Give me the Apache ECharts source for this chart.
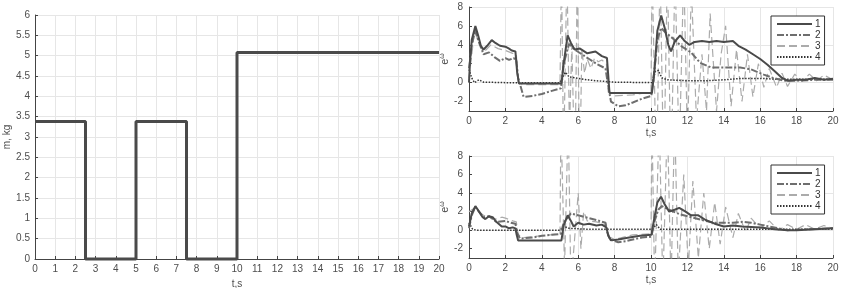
<!DOCTYPE html>
<html><head><meta charset="utf-8">
<script src="https://cdn.jsdelivr.net/npm/echarts@6/dist/echarts.min.js"></script>
<style>html,body{margin:0;padding:0;background:#fff}#c{width:841px;height:288px}</style>
</head><body><div id="c"></div>
<script>
// ---- data ----
const massT = [0, 2.5, 5, 7.5, 10, 20];
const massV = [3.38, 0, 3.38, 0, 5.08, 5.08];
const legendNames = ['1', '2', '3', '4'];
const eTicks = [-2, 0, 2, 4, 6, 8];

const topS1 = [[0,0],[0.05,2.0],[0.15,4.5],[0.35,6.0],[0.5,5.0],[0.65,3.9],[0.8,3.5],[1.0,3.9],[1.25,4.5],[1.45,4.2],[1.7,3.9],[2.0,3.8],[2.2,3.6],[2.35,3.4],[2.55,3.3],[2.65,1.0],[2.75,-0.1],[3.5,-0.1],[4.5,-0.1],[5.08,-0.1],[5.2,2.0],[5.42,5.0],[5.6,4.2],[5.8,3.5],[6.1,3.6],[6.5,3.1],[6.95,3.3],[7.3,2.8],[7.58,2.6],[7.66,0.5],[7.72,-1.1],[8.5,-1.1],[9.5,-1.1],[10.05,-1.1],[10.2,1.5],[10.35,5.5],[10.56,7.1],[10.75,5.8],[10.95,4.0],[11.1,3.3],[11.3,4.3],[11.6,5.0],[11.85,4.4],[12.1,4.0],[12.4,4.3],[12.8,4.4],[13.2,4.3],[13.6,4.4],[14.0,4.3],[14.5,4.4],[14.8,3.9],[15.2,3.5],[15.6,3.0],[16.0,2.5],[16.4,1.9],[16.8,1.2],[17.2,0.5],[17.5,0.2],[18.0,0.3],[18.5,0.3],[19.0,0.5],[19.5,0.3],[20,0.4]];
const topS2 = [[0,1.5],[0.15,4.0],[0.35,5.6],[0.5,4.5],[0.8,3.0],[1.1,3.2],[1.4,2.7],[1.7,2.3],[2.0,2.6],[2.2,2.4],[2.45,2.6],[2.6,2.4],[2.7,0.5],[3.0,-1.5],[3.5,-1.4],[4.0,-1.2],[4.5,-0.9],[5.05,-0.6],[5.2,2.0],[5.5,4.1],[5.8,3.5],[6.2,3.0],[6.6,2.5],[7.0,2.0],[7.5,1.5],[7.62,0],[7.8,-2.0],[8.2,-2.5],[8.6,-2.4],[9.0,-2.1],[9.5,-1.7],[10.02,-1.4],[10.2,1.5],[10.35,4.5],[10.55,5.8],[10.8,5.3],[11.25,4.6],[11.7,3.8],[12.2,3.2],[12.7,2.1],[13.3,1.6],[14.0,1.6],[14.9,1.6],[15.5,1.4],[16.2,0.85],[16.7,0.5],[17.1,0.3],[17.4,0.2],[18.0,0.2],[19.0,0.3],[20,0.3]];
const topS3 = [[0,0.5],[0.3,5.4],[0.8,3.2],[1.2,4.0],[1.6,3.6],[2.0,3.4],[2.4,3.1],[2.6,3.0],[2.7,0],[3.0,-0.2],[5.0,-0.2],[5.08,12],[5.2,-8],[5.38,12],[5.52,-5],[5.65,4],[5.82,-10],[5.95,12],[6.08,-10],[6.2,3.5],[6.35,1.0],[6.5,2.5],[6.7,1.5],[6.9,2.6],[7.1,2.2],[7.3,2.4],[7.55,2.0],[7.65,-1.0],[8.0,-1.4],[9.0,-1.3],[10.0,-1.0],[10.06,12],[10.3,-10],[10.5,12],[10.7,-10],[10.9,12],[11.1,-10],[11.32,12],[11.55,-8],[11.8,12],[12.0,-6],[12.22,10],[12.5,-4],[12.8,3],[13.05,-3],[13.25,7.3],[13.6,-3],[13.85,3],[14.1,6.0],[14.4,-2.5],[14.7,3.5],[15.0,-2],[15.3,3],[15.6,-1.5],[15.9,2],[16.2,-0.5],[16.5,1.5],[16.9,-0.5],[17.2,1.0],[17.5,-0.4],[17.9,0.9],[18.3,0.1],[18.7,0.9],[19.1,0.2],[19.5,0.8],[20,0.3]];
const topS4 = [[0,1.4],[0.15,0.5],[0.3,0.0],[0.55,0.3],[0.8,0.05],[2.0,0.0],[5.0,0.0],[5.15,0.6],[5.3,1.1],[5.5,0.6],[6.0,0.45],[6.5,0.3],[7.0,0.2],[8.0,0.05],[10.05,0.0],[10.25,1.2],[10.4,1.3],[10.6,0.5],[10.9,0.3],[12.0,0.2],[13.0,0.2],[14.0,0.3],[15.0,0.45],[16.0,0.45],[17.0,0.35],[18.0,0.35],[20,0.35]];

const botS1 = [[0,0.4],[0.15,1.8],[0.35,2.6],[0.55,2.0],[0.75,1.4],[0.9,1.2],[1.1,1.5],[1.3,1.4],[1.5,0.9],[1.8,0.4],[2.0,0.4],[2.2,0.2],[2.4,0.3],[2.55,0.2],[2.62,-0.5],[2.7,-1.1],[4.0,-1.1],[5.08,-1.1],[5.2,0.5],[5.42,1.6],[5.6,1.0],[5.75,0.4],[6.0,0.8],[6.3,0.6],[6.6,0.7],[7.0,0.5],[7.3,0.6],[7.55,0.3],[7.65,-0.6],[7.8,-1.1],[8.2,-1.0],[8.8,-0.8],[9.4,-0.6],[10.02,-0.5],[10.2,1.5],[10.35,3.0],[10.55,3.6],[10.75,2.8],[11.0,2.0],[11.3,2.2],[11.55,2.4],[11.9,2.0],[12.2,1.6],[12.6,1.6],[13.0,1.1],[13.5,0.7],[14.0,0.4],[14.5,0.5],[15.0,0.4],[16.0,0.3],[16.8,0.1],[17.5,0.0],[18.0,0.0],[19.0,0.1],[20,0.2]];
const botS2 = [[0,0.2],[0.15,1.6],[0.35,2.5],[0.55,2.0],[0.8,1.4],[1.1,1.5],[1.5,0.9],[2.0,1.0],[2.3,0.8],[2.55,0.7],[2.65,-0.3],[2.8,-0.9],[3.5,-0.8],[4.0,-0.6],[5.05,-0.4],[5.2,0.8],[5.6,1.8],[6.2,1.5],[6.6,1.3],[7.0,1.1],[7.5,0.8],[7.6,-0.2],[7.75,-1.0],[8.2,-1.3],[8.6,-1.2],[9.0,-1.0],[9.5,-0.8],[10.02,-0.7],[10.2,1.0],[10.4,2.2],[10.6,2.6],[11.0,2.2],[11.6,1.7],[12.2,1.4],[13.0,1.0],[13.5,0.8],[14.5,0.8],[15.0,0.9],[15.5,0.8],[16.0,0.6],[16.5,0.4],[17.0,0.2],[17.5,0.0],[18.5,0.1],[20,0.2]];
const botS3 = [[0,2.0],[0.3,2.4],[0.8,1.6],[1.1,1.4],[1.5,1.2],[1.8,1.4],[2.0,1.3],[2.4,1.0],[2.6,0.9],[2.7,-0.5],[3.0,-0.8],[4.0,-0.6],[5.0,-0.4],[5.05,12],[5.25,-4],[5.45,12],[5.6,-6],[5.8,-1],[6.0,4],[6.15,-2],[6.3,2],[6.5,1.0],[7.0,0.9],[7.5,0.6],[7.7,-0.7],[8.0,-1.0],[9.0,-0.5],[10.0,-0.4],[10.05,12],[10.2,-6],[10.45,12],[10.65,-6],[10.9,12],[11.1,-6],[11.3,12],[11.5,-5],[11.8,6],[12.05,-4],[12.3,5.3],[12.6,-3],[12.9,4],[13.2,-2],[13.5,3],[13.8,-1.5],[14.1,2.5],[14.5,-0.8],[14.8,1.8],[15.2,-0.2],[15.5,1.3],[16.0,0.2],[16.5,1.0],[17.0,0.0],[17.5,0.6],[18.0,0.1],[18.5,0.6],[19.0,0.1],[19.5,0.5],[20,0.2]];
const botS4 = [[0,0.8],[0.2,0.1],[0.4,0.0],[2.0,0.0],[5.0,0.0],[5.2,0.4],[5.5,0.2],[6.5,0.1],[10.05,0.1],[10.3,0.6],[10.5,0.1],[14.0,0.1],[20,0.1]];

// ---- styles ----
const FONT = 'Liberation Sans';
const labelStyle = {color: '#4d4d4d', fontSize: 10, fontFamily: FONT};
const gridLine = '#e6e6e6';
const axisLineStyle = {lineStyle: {color: '#444', width: 1}};
const lineStyles = [
  {color: '#4a4a4a', width: 2, type: 'solid'},
  {color: '#6e6e6e', width: 2, type: [7, 2, 2, 2]},
  {color: '#ababab', width: 1.2, type: [8, 4]},
  {color: '#333333', width: 1.5, type: [1.5, 1.5]}
];

function xAx(gridIndex, interval, name) {
  return {
    type: 'value', gridIndex, min: 0, max: 20, interval,
    name, nameLocation: 'middle', nameGap: 17,
    nameTextStyle: {color: '#4d4d4d', fontSize: 10, fontFamily: FONT},
    axisLine: {show: true, onZero: false, ...axisLineStyle},
    axisTick: {show: true, inside: true, length: 3, lineStyle: {color: '#444'}},
    axisLabel: {...labelStyle, margin: 5},
    splitLine: {show: true, lineStyle: {color: gridLine, width: 1}}
  };
}
function eAx(gridIndex) {
  return {
    type: 'value', gridIndex, min: -3, max: 8, interval: 1,
    name: '{a|e}{b|ω}', nameLocation: 'middle', nameGap: 16,
    nameTextStyle: {rich: {a: {fontSize: 11, fontFamily: FONT, color: '#4d4d4d'}, b: {fontSize: 7, fontFamily: FONT, color: '#4d4d4d', verticalAlign: 'top', padding: [0,0,6,0]}}},
    axisLine: {show: true, ...axisLineStyle},
    axisTick: {show: true, inside: true, length: 3, customValues: eTicks, lineStyle: {color: '#444'}},
    axisLabel: {...labelStyle, margin: 6, customValues: eTicks},
    splitLine: {show: true, lineStyle: {color: ['transparent', gridLine], width: 1}}
  };
}

const legendBase = {
  orient: 'vertical', left: 771, data: legendNames,
  itemWidth: 35, itemHeight: 8, itemGap: 1, padding: [3, 4, 3, 5],
  borderColor: '#333', borderWidth: 1, backgroundColor: '#fff',
  itemStyle: {opacity: 0},
  textStyle: {color: '#333', fontSize: 10, fontFamily: FONT, padding: [0,0,0,-2]},
  selectedMode: false
};

const option = {
  animation: false,
  backgroundColor: '#fff',
  grid: [
    {left: 35, top: 15, width: 404, height: 244, outerBoundsMode: 'none', containLabel: false},
    {left: 469, top: 7, width: 364, height: 104, outerBoundsMode: 'none', containLabel: false},
    {left: 469, top: 156, width: 364, height: 102, outerBoundsMode: 'none', containLabel: false}
  ],
  xAxis: [xAx(0, 1, 't,s'), xAx(1, 2, 't,s'), xAx(2, 2, 't,s')],
  yAxis: [
    {
      type: 'value', gridIndex: 0, min: 0, max: 6, interval: 0.5,
      name: 'm, kg', nameLocation: 'middle', nameGap: 20,
      nameTextStyle: {color: '#4d4d4d', fontSize: 10, fontFamily: FONT},
      axisLine: {show: true, ...axisLineStyle},
      axisTick: {show: true, inside: true, length: 3, lineStyle: {color: '#444'}},
      axisLabel: {...labelStyle, margin: 5},
      splitLine: {show: true, lineStyle: {color: gridLine, width: 1}}
    },
    eAx(1), eAx(2)
  ],
  legend: [
    Object.assign({}, legendBase, {top: 16}),
    Object.assign({}, legendBase, {top: 165})
  ],
  series: []
};

option.series.push({
  type: 'line', xAxisIndex: 0, yAxisIndex: 0, step: 'end', symbol: 'none',
  data: massT.map((t, i) => [t, massV[i]]),
  lineStyle: {color: '#4a4a4a', width: 3}, clip: false
});

const topData = [topS1, topS2, topS3, topS4];
const botData = [botS1, botS2, botS3, botS4];
const order = [2, 3, 1, 0];
order.forEach(i => {
  option.series.push({
    name: legendNames[i], type: 'line', xAxisIndex: 1, yAxisIndex: 1,
    symbol: 'none', data: topData[i], lineStyle: lineStyles[i], itemStyle: {color: lineStyles[i].color}, clip: true
  });
});
order.forEach(i => {
  option.series.push({
    name: legendNames[i], type: 'line', xAxisIndex: 2, yAxisIndex: 2,
    symbol: 'none', data: botData[i], lineStyle: lineStyles[i], itemStyle: {color: lineStyles[i].color}, clip: true
  });
});

const chart = echarts.init(document.getElementById('c'), null, {renderer: 'canvas'});
chart.setOption(option);
</script>
</body></html>
